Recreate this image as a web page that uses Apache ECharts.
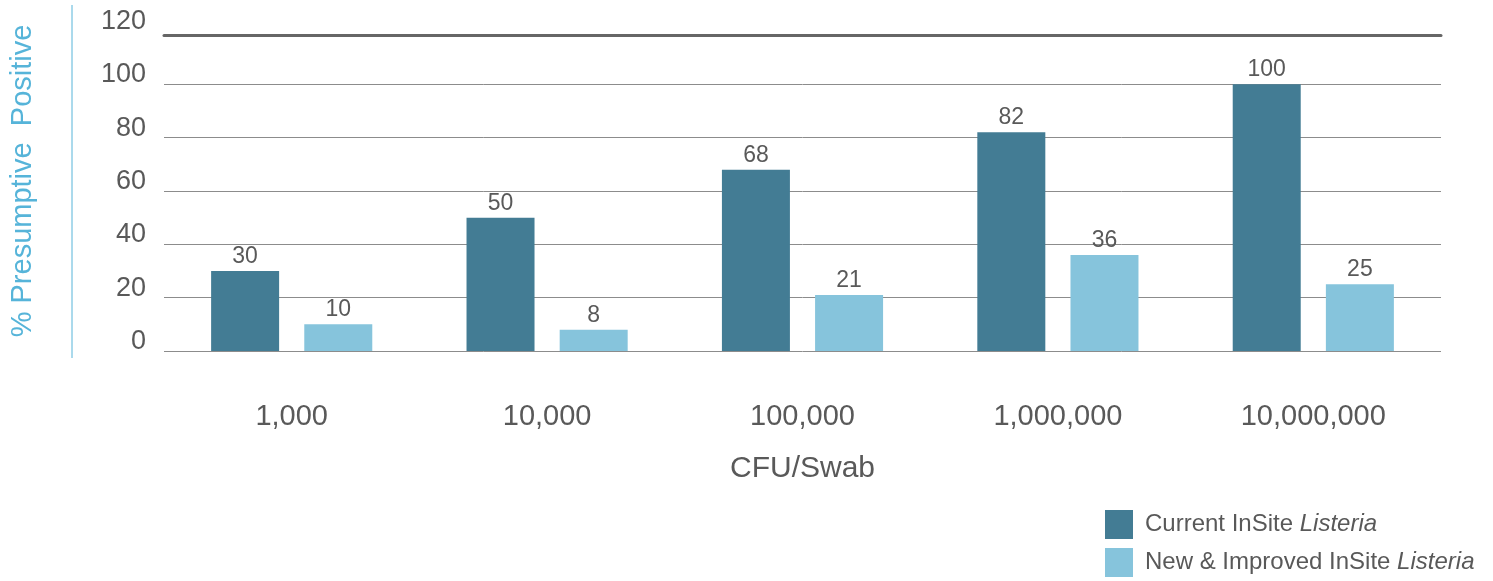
<!DOCTYPE html>
<html><head><meta charset="utf-8">
<script src="https://cdn.jsdelivr.net/npm/echarts@6/dist/echarts.min.js"></script>
<style>html,body{margin:0;padding:0;background:#fff}#c{width:1493px;height:581px}</style>
</head><body><div id="c"></div>
<script>
const categories = ['1,000', '10,000', '100,000', '1,000,000', '10,000,000'];
const currentValues = [30, 50, 68, 82, 100];
const improvedValues = [10, 8, 21, 36, 25];
const yTicks = [0, 20, 40, 60, 80, 100, 120];
const seriesNames = ['Current InSite Listeria', 'New & Improved InSite Listeria'];

const chart = echarts.init(document.getElementById('c'));
const font = 'Liberation Sans, Arial, sans-serif';
const grid = '#8c8c8c';
chart.setOption({
  animation: false,
  textStyle: { fontFamily: font },
  grid: { left: 164, right: 52, top: 31, bottom: 230 },
  legend: {
    orient: 'vertical', left: 1105, top: 510, padding: 0, itemWidth: 28, itemHeight: 29, itemGap: 9,
    icon: 'rect',
    data: seriesNames,
    formatter: function (n) {
      const parts = n.split('Listeria');
      return '{n|' + parts[0] + '}{i|Listeria}';
    },
    textStyle: {
      rich: {
        n: { fontSize: 24, color: '#595959', fontFamily: font, padding: [0, 0, 0, 7] },
        i: { fontSize: 24, color: '#595959', fontStyle: 'italic', fontFamily: font }
      }
    }
  },
  xAxis: [{
    type: 'category', data: categories,
    name: 'CFU/Swab', nameLocation: 'middle', nameGap: 103,
    nameTextStyle: { fontSize: 30, color: '#595959' },
    axisLine: { show: false }, axisTick: { show: false },
    axisLabel: { fontSize: 29, color: '#595959', margin: 51 }
  }, {
    type: 'category', data: categories, position: 'top', offset: -4,
    axisLine: { show: true, lineStyle: { color: '#666', width: 3 } },
    axisTick: { show: false }, axisLabel: { show: false }
  }],
  yAxis: {
    type: 'value', min: yTicks[0], max: yTicks[yTicks.length - 1], interval: 20,
    name: '% Presumptive  Positive', nameLocation: 'middle', nameGap: 127,
    nameTextStyle: { fontSize: 29, color: '#56B4D9', padding: [0, 0, 0, 20] },
    axisLine: { show: false }, axisTick: { show: false },
    axisLabel: { fontSize: 27, color: '#595959', margin: 18, verticalAlign: 'bottom', padding: [0, 0, -4, 0] },
    splitLine: { lineStyle: { color: [grid, grid, grid, grid, grid, grid, 'rgba(0,0,0,0)'], width: 1 } }
  },
  graphic: [{
    type: 'line', shape: { x1: 72, y1: 5, x2: 72, y2: 358 },
    style: { stroke: '#56B4D9', lineWidth: 1 }
  }],
  series: [{
    name: seriesNames[0], type: 'bar', data: currentValues, barWidth: 68, barGap: '37%',
    itemStyle: { color: '#437C94' },
    label: { show: true, position: 'top', fontSize: 23, color: '#595959', distance: 3 }
  }, {
    name: seriesNames[1], type: 'bar', data: improvedValues, barWidth: 68,
    itemStyle: { color: '#86C4DC' },
    label: { show: true, position: 'top', fontSize: 23, color: '#595959', distance: 3 }
  }]
});
</script></body></html>
